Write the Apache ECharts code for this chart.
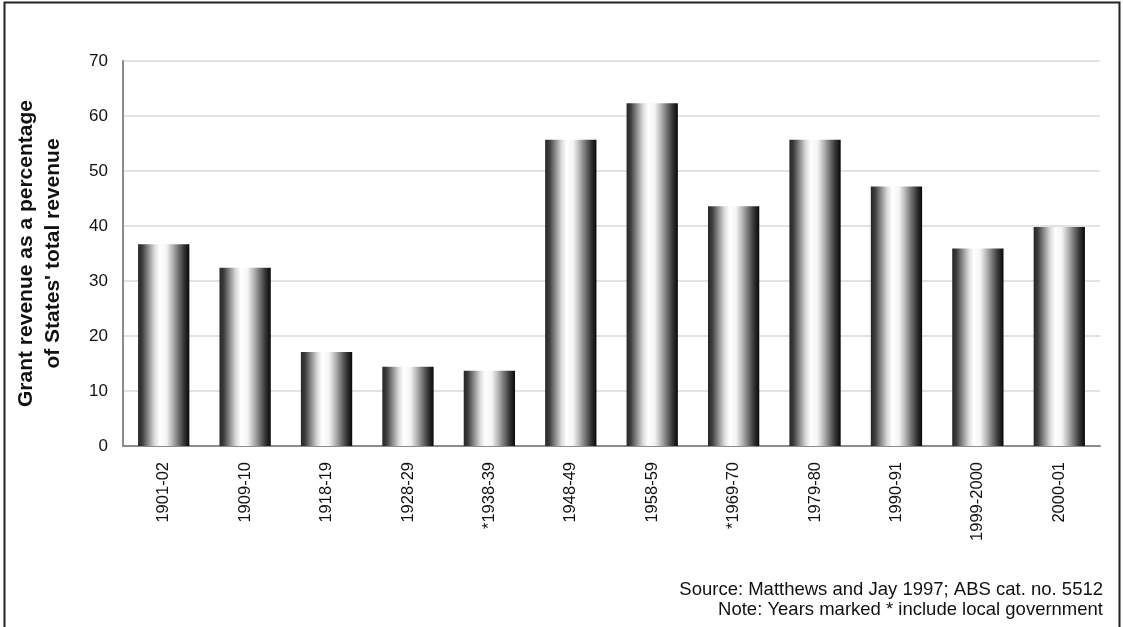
<!DOCTYPE html>
<html>
<head>
<meta charset="utf-8">
<script src="https://cdn.jsdelivr.net/npm/echarts@6/dist/echarts.min.js"></script>
<style>
html,body{margin:0;padding:0;background:#fff;}
#chart{width:1123px;height:627px;}
</style>
</head>
<body>
<div id="chart"></div>
<script>
const categories = ['1901-02','1909-10','1918-19','1928-29','*1938-39','1948-49','1958-59','*1969-70','1979-80','1990-91','1999-2000','2000-01'];
const grantShare = [36.7, 32.4, 17.1, 14.4, 13.7, 55.7, 62.3, 43.6, 55.7, 47.2, 35.9, 39.8];
const yTicks = [0, 10, 20, 30, 40, 50, 60, 70];
const yTitle = "Grant revenue as a percentage\nof States' total revenue";
const notes = ['Source: Matthews and Jay 1997; ABS cat. no. 5512', 'Note: Years marked * include local government'];

const FONT = '"Liberation Sans", Arial, sans-serif';
const chart = echarts.init(document.getElementById('chart'), null, {renderer: 'canvas'});

const barGradient = new echarts.graphic.LinearGradient(0, 0, 1, 0, [
  {offset: 0, color: '#262626'},
  {offset: 0.08, color: '#3c3c3c'},
  {offset: 0.2, color: '#8c8c8c'},
  {offset: 0.32, color: '#dadada'},
  {offset: 0.42, color: '#ffffff'},
  {offset: 0.55, color: '#f4f4f4'},
  {offset: 0.68, color: '#b0b0b0'},
  {offset: 0.8, color: '#6a6a6a'},
  {offset: 0.9, color: '#333333'},
  {offset: 1, color: '#080808'}
]);

chart.setOption({
  animation: false,
  backgroundColor: '#ffffff',
  grid: {left: 123, right: 23, top: 61, bottom: 181, containLabel: false},
  xAxis: {
    type: 'category',
    data: categories,
    axisLine: {show: true, lineStyle: {color: '#8c8c8c', width: 2}},
    axisTick: {show: false},
    axisLabel: {rotate: 90, margin: 16, color: '#111', fontSize: 16.5, fontFamily: FONT, interval: 0}
  },
  yAxis: {
    type: 'value',
    min: yTicks[0],
    max: yTicks[yTicks.length - 1],
    interval: 10,
    name: yTitle,
    nameLocation: 'middle',
    nameRotate: 90,
    nameGap: 56,
    nameTextStyle: {fontSize: 21, fontWeight: 'bold', color: '#111', fontFamily: FONT, lineHeight: 27, align: 'center'},
    axisLine: {show: true, lineStyle: {color: '#8c8c8c', width: 2}},
    axisTick: {show: false},
    axisLabel: {margin: 15, color: '#111', fontSize: 17, fontFamily: FONT},
    splitLine: {show: true, lineStyle: {color: '#d9d9d9', width: 1.5}}
  },
  series: [{
    type: 'bar',
    data: grantShare,
    barWidth: '63%',
    itemStyle: {color: barGradient}
  }],
  graphic: [
    {type: 'rect', shape: {x: 4.5, y: 2.5, width: 1115, height: 700}, style: {fill: 'none', stroke: '#222', lineWidth: 2}, silent: true},
    {type: 'text', x: 1103, y: 590, style: {text: notes[0], align: 'right', verticalAlign: 'middle', fontSize: 18.5, fontFamily: FONT, fill: '#111'}},
    {type: 'text', x: 1103, y: 610, style: {text: notes[1], align: 'right', verticalAlign: 'middle', fontSize: 18.5, fontFamily: FONT, fill: '#111'}}
  ]
});
</script>
</body>
</html>
